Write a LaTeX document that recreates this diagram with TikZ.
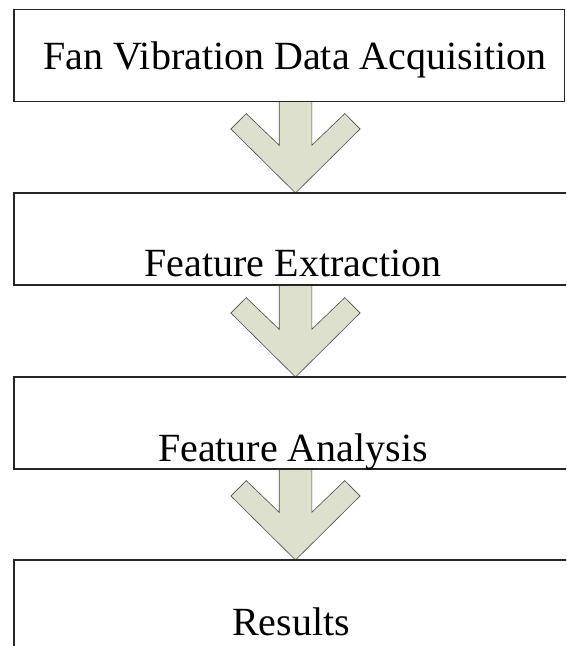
\documentclass[tikz,border=0pt]{standalone}
\usepackage{fontspec}
\setmainfont{Liberation Serif}
\usetikzlibrary{calc,backgrounds}

\definecolor{chevfill}{RGB}{221,224,204}
\tikzset{
  stage/.style={draw=black!85,line width=1.3pt,minimum height=92pt,
    anchor=north west,inner sep=0pt,outer sep=0pt},
  label/.style={anchor=base,inner sep=0pt,font=\fontsize{40}{48}\selectfont},
  chev/.style={fill=chevfill,draw=black!70,line width=0.6pt},
}
% block arrow from the bottom of #1 down to the top of #2
\newcommand\chevron[2]{%
  \draw[chev] ($(#1.south west)+(265.2,0)$) -- ($(#2.north west)+(265.2,47.7)$)
    -- ($(#2.north west)+(232.2,79.4)$) -- ($(#2.north west)+(216.9,64)$)
    -- ($(#2.north west)+(281.5,0)$) -- ($(#2.north west)+(346.1,64)$)
    -- ($(#2.north west)+(330.8,79.4)$) -- ($(#2.north west)+(297.8,47.7)$)
    -- ($(#1.south west)+(297.8,0)$) -- cycle;}

\begin{document}
\begin{tikzpicture}[x=1pt,y=1pt]
\useasboundingbox (0,0) rectangle (566,-646);
\clip (0,0) rectangle (566,-646);

\foreach \n/\y/\w in {1/-9.3/550.5,2/-193/600,3/-377/600,4/-560/600}
  \node[stage,minimum width=\w pt] (s\n) at (14,\y) {};

\node[label] (t1) at ($(s1.north west)+(281,-60)$) {Fan Vibration Data Acquisition};
\node[label] (t2) at ($(s2.north west)+(279,-83)$) {Feature Extraction};
\node[label] (t3) at ($(s3.north west)+(279,-84.7)$) {Feature Analysis};
\node[label] (t4) at ($(s4.north west)+(277,-75)$) {Results};

\begin{scope}[on background layer]
  \chevron{s1}{s2}
  \chevron{s2}{s3}
  \chevron{s3}{s4}
\end{scope}
\end{tikzpicture}
\end{document}
